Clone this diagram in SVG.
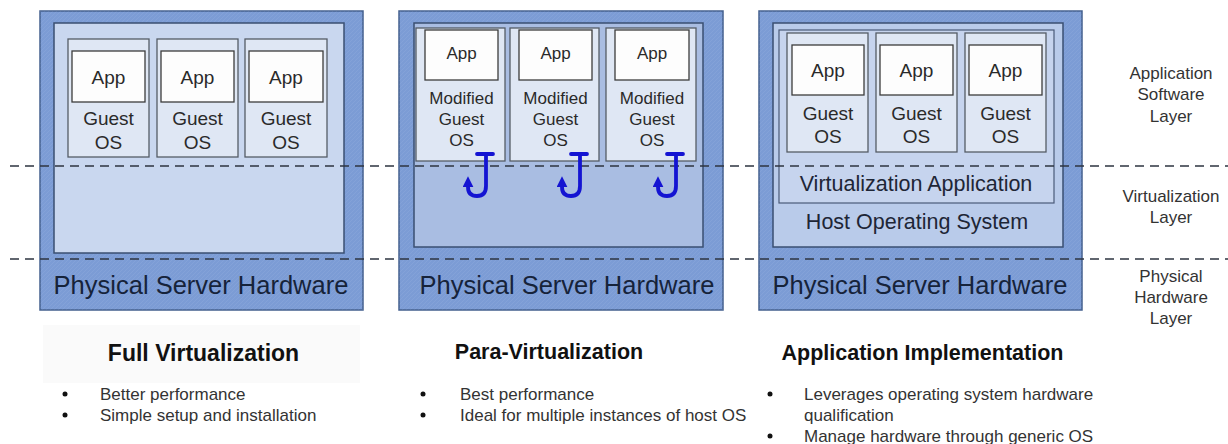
<svg xmlns="http://www.w3.org/2000/svg" width="1228" height="444" viewBox="0 0 1228 444">
<style>
text{font-family:"Liberation Sans",Arial,sans-serif;fill:#222;}
.outer{fill:#7c9cd5;stroke:#44608e;stroke-width:1.5;}
.inner{fill:#c9d7ef;stroke:#3a4f72;stroke-width:1.5;}
.inner2{fill:#a9bde2;stroke:#3a4f72;stroke-width:1.5;}
.host{fill:#b9cbea;stroke:#3a4f72;stroke-width:1.5;}
.vapp{fill:#c6d4ee;stroke:#4a5a78;stroke-width:1.2;}
.guest{fill:#dfe7f4;stroke:#555c66;stroke-width:1.3;}
.app{fill:#fdfdfd;stroke:#3c3c3c;stroke-width:1.3;}
.t17{font-size:17px;text-anchor:middle;fill:#2a2a2a;}
.t19{font-size:19px;text-anchor:middle;fill:#2a2a2a;}
.hw{font-size:25.5px;text-anchor:middle;fill:#16233a;}
.big{font-size:21.5px;text-anchor:middle;fill:#1e2636;}
.layer{font-size:17px;text-anchor:middle;fill:#333;}
.title{font-weight:bold;text-anchor:middle;fill:#111;}
.bul{font-size:17px;fill:#333;}
.dot{fill:#111;}
.dash{stroke:#2e3440;stroke-width:1.5;stroke-dasharray:9 6;fill:none;}
.hook{stroke:#1414d2;stroke-width:3.8;fill:none;stroke-linecap:round;}
</style>
<defs>
<pattern id="hatch" width="4" height="4" patternUnits="userSpaceOnUse">
<path d="M0,4 L4,0" stroke="#ffffff" stroke-width="0.5" opacity="0.12"/>
</pattern>
<marker id="ah" viewBox="0 0 10 10" refX="3" refY="5" markerWidth="11" markerHeight="11" markerUnits="userSpaceOnUse" orient="auto">
<path d="M0,0 L10,5 L0,10 z" fill="#1414d2"/>
</marker>
</defs>

<g id="panel-full">
<rect class="outer" x="40" y="11" width="323" height="299"/>
<rect fill="url(#hatch)" x="40" y="11" width="323" height="299"/>
<rect class="inner" x="54" y="23" width="290" height="230"/>
<g id="full-vm1">
<rect class="guest" x="68" y="39" width="81" height="118"/>
<rect class="app" x="72" y="51" width="73" height="51"/>
<text class="t19" x="108.5" y="84">App</text>
<text class="t19" x="108.5" y="125">Guest</text>
<text class="t19" x="108.5" y="149">OS</text>
</g>
<g id="full-vm2">
<rect class="guest" x="157" y="39" width="81" height="118"/>
<rect class="app" x="161" y="51" width="73" height="51"/>
<text class="t19" x="197.5" y="84">App</text>
<text class="t19" x="197.5" y="125">Guest</text>
<text class="t19" x="197.5" y="149">OS</text>
</g>
<g id="full-vm3">
<rect class="guest" x="245" y="39" width="82" height="118"/>
<rect class="app" x="249" y="51" width="74" height="51"/>
<text class="t19" x="286" y="84">App</text>
<text class="t19" x="286" y="125">Guest</text>
<text class="t19" x="286" y="149">OS</text>
</g>
<text class="hw" x="201" y="294">Physical Server Hardware</text>
</g>

<g id="panel-para">
<rect class="outer" x="399" y="11" width="324" height="299"/>
<rect fill="url(#hatch)" x="399" y="11" width="324" height="299"/>
<rect class="inner2" x="414" y="23" width="289" height="224"/>
<g id="para-vm1">
<rect class="guest" x="416" y="28" width="89" height="133"/>
<rect class="app" x="425" y="30" width="73" height="50"/>
<text class="t17" x="461.5" y="59">App</text>
<text class="t17" x="461.5" y="104">Modified</text>
<text class="t17" x="461.5" y="125">Guest</text>
<text class="t17" x="461.5" y="146">OS</text>
</g>
<g id="para-vm2">
<rect class="guest" x="510" y="28" width="89" height="133"/>
<rect class="app" x="519" y="30" width="73" height="50"/>
<text class="t17" x="555.5" y="59">App</text>
<text class="t17" x="555.5" y="104">Modified</text>
<text class="t17" x="555.5" y="125">Guest</text>
<text class="t17" x="555.5" y="146">OS</text>
</g>
<g id="para-vm3">
<rect class="guest" x="606" y="28" width="90" height="133"/>
<rect class="app" x="615" y="30" width="74" height="50"/>
<text class="t17" x="652" y="59">App</text>
<text class="t17" x="652" y="104">Modified</text>
<text class="t17" x="652" y="125">Guest</text>
<text class="t17" x="652" y="146">OS</text>
</g>
<text class="hw" x="567" y="294">Physical Server Hardware</text>
</g>

<g id="panel-app">
<rect class="outer" x="759" y="11" width="323" height="299"/>
<rect fill="url(#hatch)" x="759" y="11" width="323" height="299"/>
<rect class="host" x="773" y="23" width="290" height="224"/>
<rect class="vapp" x="779" y="30" width="275" height="173"/>
<g id="app-vm1">
<rect class="guest" x="787" y="33" width="81" height="119"/>
<rect class="app" x="792" y="45" width="72" height="50"/>
<text class="t19" x="828" y="77">App</text>
<text class="t19" x="828" y="120">Guest</text>
<text class="t19" x="828" y="143">OS</text>
</g>
<g id="app-vm2">
<rect class="guest" x="876" y="33" width="81" height="119"/>
<rect class="app" x="880" y="45" width="73" height="50"/>
<text class="t19" x="916.5" y="77">App</text>
<text class="t19" x="916.5" y="120">Guest</text>
<text class="t19" x="916.5" y="143">OS</text>
</g>
<g id="app-vm3">
<rect class="guest" x="965" y="33" width="81" height="119"/>
<rect class="app" x="969" y="45" width="73" height="50"/>
<text class="t19" x="1005.5" y="77">App</text>
<text class="t19" x="1005.5" y="120">Guest</text>
<text class="t19" x="1005.5" y="143">OS</text>
</g>
<text class="big" x="916" y="191">Virtualization Application</text>
<text class="big" x="917" y="229">Host Operating System</text>
<text class="hw" x="920" y="294">Physical Server Hardware</text>
</g>

<g id="connectors">
<line class="dash" x1="10" y1="166" x2="1228" y2="166"/>
<line class="dash" x1="10" y1="259" x2="1228" y2="259"/>
<g id="hook1">
<path class="hook" d="M477,154 H493"/>
<path class="hook" d="M486,154 V186 Q486,196 477,196 Q468,196 468,187 L468,184" marker-end="url(#ah)"/>
</g>
<g id="hook2">
<path class="hook" d="M571,154 H587"/>
<path class="hook" d="M580,154 V186 Q580,196 571,196 Q562,196 562,187 L562,184" marker-end="url(#ah)"/>
</g>
<g id="hook3">
<path class="hook" d="M667,154 H683"/>
<path class="hook" d="M676,154 V186 Q676,196 667,196 Q658,196 658,187 L658,184" marker-end="url(#ah)"/>
</g>
</g>

<g id="layer-labels">
<text class="layer" x="1171" y="79">Application</text>
<text class="layer" x="1171" y="100">Software</text>
<text class="layer" x="1171" y="122">Layer</text>
<text class="layer" x="1171" y="202">Virtualization</text>
<text class="layer" x="1171" y="223">Layer</text>
<text class="layer" x="1171" y="282">Physical</text>
<text class="layer" x="1171" y="303">Hardware</text>
<text class="layer" x="1171" y="324">Layer</text>
</g>

<g id="caption-full">
<rect x="43" y="325" width="317" height="58" fill="#fafafa"/>
<text class="title" x="203.5" y="361" font-size="23">Full Virtualization</text>
<circle class="dot" cx="65" cy="394" r="2.5"/>
<text class="bul" x="100" y="400">Better performance</text>
<circle class="dot" cx="65" cy="415" r="2.5"/>
<text class="bul" x="100" y="421">Simple setup and installation</text>
</g>
<g id="caption-para">
<text class="title" x="549" y="359" font-size="21.5">Para-Virtualization</text>
<circle class="dot" cx="423" cy="394" r="2.5"/>
<text class="bul" x="460" y="400">Best performance</text>
<circle class="dot" cx="423" cy="415" r="2.5"/>
<text class="bul" x="460" y="421">Ideal for multiple instances of host OS</text>
</g>
<g id="caption-app">
<text class="title" x="922.5" y="360" font-size="21.5">Application Implementation</text>
<circle class="dot" cx="770" cy="394" r="2.5"/>
<text class="bul" x="804" y="400">Leverages operating system hardware</text>
<text class="bul" x="804" y="421">qualification</text>
<circle class="dot" cx="770" cy="436" r="2.5"/>
<text class="bul" x="804" y="442">Manage hardware through generic OS</text>
</g>
</svg>
